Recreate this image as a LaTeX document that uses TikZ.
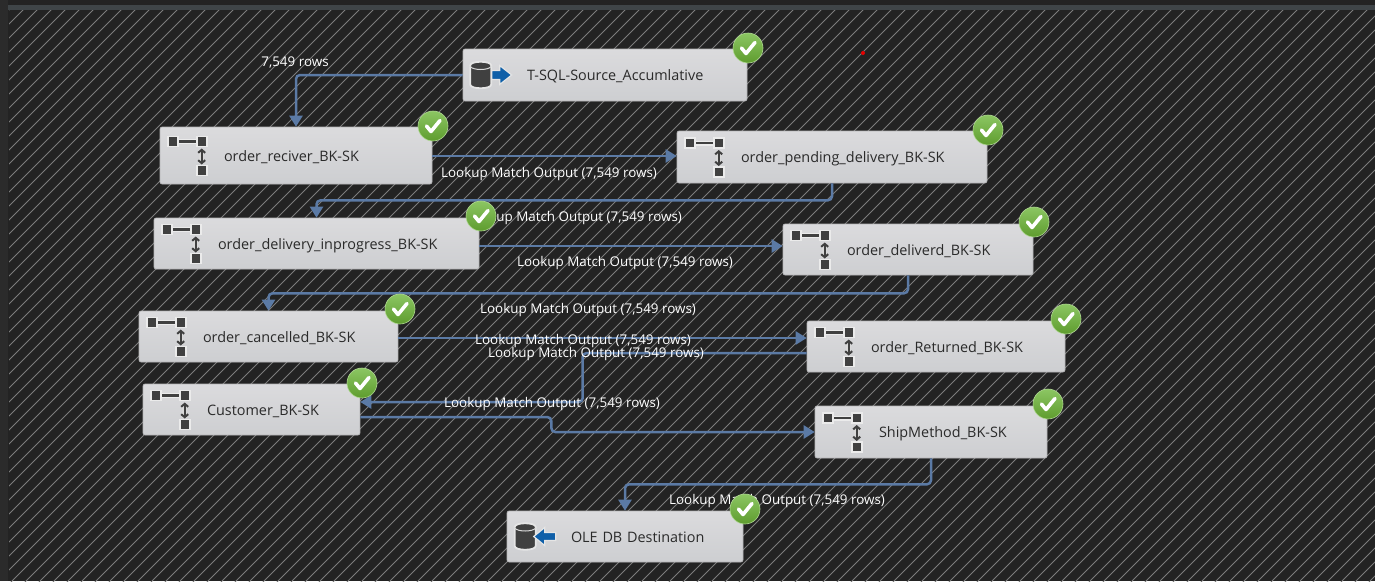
\documentclass[tikz,border=0pt]{standalone}
\usepackage{fontspec}
\setmainfont{Open Sans}
\usetikzlibrary{arrows.meta,calc}
\definecolor{bgdark}{HTML}{232323}
\definecolor{hatchc}{HTML}{7C7C7C}
\definecolor{barc}{HTML}{3F4548}
\definecolor{sidec}{HTML}{2B2B2B}
\definecolor{flow}{HTML}{5B7AA5}
\definecolor{boxtop}{HTML}{DBDBDD}
\definecolor{boxbot}{HTML}{CDCED1}
\definecolor{boxedge}{HTML}{B4B4B6}
\definecolor{boxtext}{HTML}{2A2A2A}
\definecolor{icond}{HTML}{404040}
\definecolor{iconblue}{HTML}{0F5FA8}
\definecolor{oktop}{HTML}{8CC663}
\definecolor{okbot}{HTML}{5E9C2E}
\tikzset{
  taskbox/.style={rectangle,draw=boxedge,line width=0.6pt,rounded corners=2pt,top color=boxtop,bottom color=boxbot,
    inner sep=0pt,align=left,text=boxtext,font=\fontsize{14.4}{16}\selectfont},
  flowline/.style={draw=flow,line width=2.5pt,rounded corners=4pt,-{Triangle[length=11pt,width=13pt]}},
  rowlabel/.style={text=white,inner sep=0pt,font=\fontsize{13.4}{15}\selectfont},
  badge/.style={circle,minimum size=30pt,inner sep=0pt,draw=oktop!70!white,line width=0.6pt,top color=oktop,bottom color=okbot},
  tick/.style={draw=white,line width=3.6pt,line cap=round,line join=round},
  sq/.style={fill=icond,draw=white!92!black,line width=1.6pt},
  link/.style={draw=icond,line width=2.4pt}
}
\newcommand{\taskbox}[6]{%
  \pgfmathsetmacro{\boxw}{#4-#2}\pgfmathsetmacro{\boxh}{#5-#3}%
  \node[taskbox,text width=\boxw pt,minimum height=\boxh pt] (#1) at ({(#2+#4)/2},{(#3+#5)/2}) {\hspace*{64pt}\raisebox{-5.5pt}[0pt][0pt]{#6}};}
\newcommand{\lookupicon}[1]{%
  \begin{scope}[shift={(#1.west)}]
    \draw[draw=white!92!black,line width=5pt] (17,-14) -- (38,-14);
    \draw[draw=white!85!black,line width=5pt] (42,-6) -- (42,8);
    \draw[link] (17,-14) -- (38,-14);
    \path[sq] (8.5,-19) rectangle (18.5,-9);
    \path[sq] (37,-19) rectangle (47,-9);
    \path[sq] (37,10) rectangle (47,20);
    \draw[link,line width=2pt,{Straight Barb[length=3pt,width=7pt]}-{Straight Barb[length=3pt,width=7pt]}] (42,-7) -- (42,9);
  \end{scope}}
\newcommand{\dbbody}[1]{%
    \fill[icond,draw=white!90!black,line width=1.8pt] (#1,-9.5) -- (#1,9.5) .. controls (#1,14.5) and (#1+21,14.5) .. (#1+21,9.5) -- (#1+21,-9.5) .. controls (#1+21,-14.5) and (#1,-14.5) .. (#1,-9.5) -- cycle;
    \draw[white!85!black,line width=1pt] (#1,-9) -- (#1,-8.5) .. controls (#1+3,-4.5) and (#1+18,-4.5) .. (#1+21,-8.5);}
\newcommand{\srcicon}[1]{%
  \begin{scope}[shift={(#1.west)}]
    \dbbody{7.5}
    \fill[iconblue,draw=white!90!black,line width=1.2pt] (29,-4.5) -- (37,-4.5) -- (37,-9.5) -- (49,0) -- (37,9.5) -- (37,4.5) -- (29,4.5) -- cycle;
  \end{scope}}
\newcommand{\desticon}[1]{%
  \begin{scope}[shift={(#1.west)}]
    \dbbody{8}
    \fill[iconblue,draw=white!90!black,line width=1.2pt] (49,-4) -- (38,-4) -- (38,-9) -- (27,0) -- (38,9) -- (38,4) -- (49,4) -- cycle;
  \end{scope}}
\newcommand{\okbadge}[3]{%
  \node[badge] (#1) at (#2,#3) {};
  \draw[tick] (#1.center) ++(-6.5,0) -- ++(4.5,5.5) -- ++(9,-11);}
\begin{document}
\begin{tikzpicture}[x=1pt,y=-1pt]
  \useasboundingbox (0,0) rectangle (1375,581);
  \fill[bgdark] (0,0) rectangle (1375,581);
  \begin{scope}
    \clip (9,10) rectangle (1375,581);
    \foreach \k in {0,...,140}{
      \pgfmathsetmacro{\s}{5+14*\k}
      \draw[hatchc,line width=0.9pt] (\s,0) -- (0,\s);
    }
  \end{scope}
  \fill[sidec] (0,0) rectangle (8,581);
  \fill[barc] (8,5) rectangle (1375,10);
  \fill[red!90!black] (863,53) circle[radius=2];

  % boxes (defined first so connectors can refer to them)
  \taskbox{tsql}{463}{49}{747}{101}{T-SQL-Source\_Accumlative}
  \taskbox{reciver}{160}{127}{432}{184}{order\_reciver\_BK-SK}
  \taskbox{pending}{677}{131}{987}{183}{order\_pending\_delivery\_BK-SK}
  \taskbox{inprog}{154}{218}{479}{269}{order\_delivery\_inprogress\_BK-SK}
  \taskbox{deliverd}{783}{224}{1033}{275}{order\_deliverd\_BK-SK}
  \taskbox{cancelled}{139}{311}{398}{362}{order\_cancelled\_BK-SK}
  \taskbox{returned}{807}{321}{1065}{372}{order\_Returned\_BK-SK}
  \taskbox{customer}{143}{384}{360}{435}{Customer\_BK-SK}
  \taskbox{ship}{815}{406}{1047}{458}{ShipMethod\_BK-SK}
  \taskbox{ole}{507}{511}{743}{562}{OLE DB Destination}

  % connectors
  \draw[flowline] (tsql.west) -| (reciver.north);
  \draw[flowline] ([yshift=-0.5pt]reciver.east) -- ([yshift=1pt]pending.west);
  \draw[flowline] (pending.south) -- ++(0,17) -| (inprog.north);
  \draw[flowline] ([yshift=-2.5pt]inprog.east) -- ([yshift=3.5pt]deliverd.west);
  \draw[flowline] (deliverd.south) -- ++(0,18) -| (cancelled.north);
  \draw[flowline] ([yshift=-1.5pt]cancelled.east) -- ([yshift=8.5pt]returned.west);
  \draw[flowline] ([yshift=-6.5pt]returned.west) -- ++(-224,0) -- ++(0,49) -- ([yshift=7.5pt]customer.east);
  \draw[flowline] ([yshift=-7.5pt]customer.east) -- ++(191,0) -- ++(0,15) -- ([yshift=0pt]ship.west);
  \draw[flowline] (ship.south) -- ++(0,26) -| (ole.north);

  % labels
  \node[rowlabel] (l0) at (295,62.5) {7,549 rows};
  \node[rowlabel] (l1) at (549,174) {Lookup Match Output (7,549 rows)};
  \node[rowlabel] (l2) at (574,218) {Lookup Match Output (7,549 rows)};
  \node[rowlabel] (l3) at (625,263.5) {Lookup Match Output (7,549 rows)};
  \node[rowlabel] (l4) at (588,310.5) {Lookup Match Output (7,549 rows)};
  \node[rowlabel] (l5) at (583,341) {Lookup Match Output (7,549 rows)};
  \node[rowlabel] (l6) at (596,354.5) {Lookup Match Output (7,549 rows)};
  \node[rowlabel] (l7) at (552,404.5) {Lookup Match Output (7,549 rows)};
  \node[rowlabel] (l8) at (777,501.5) {Lookup Match Output (7,549 rows)};

  % icons
  \srcicon{tsql}
  \lookupicon{reciver}
  \lookupicon{pending}
  \lookupicon{inprog}
  \lookupicon{deliverd}
  \lookupicon{cancelled}
  \lookupicon{returned}
  \lookupicon{customer}
  \lookupicon{ship}
  \desticon{ole}

  % badges
  \okbadge{oka}{748}{48}
  \okbadge{okb}{433}{126}
  \okbadge{okc}{988}{130}
  \okbadge{okd}{481}{216}
  \okbadge{oke}{1034}{222}
  \okbadge{okf}{400}{309}
  \okbadge{okg}{1066}{319}
  \okbadge{okh}{362}{383}
  \okbadge{oki}{1048}{404}
  \okbadge{okj}{745}{509}
\end{tikzpicture}
\end{document}
